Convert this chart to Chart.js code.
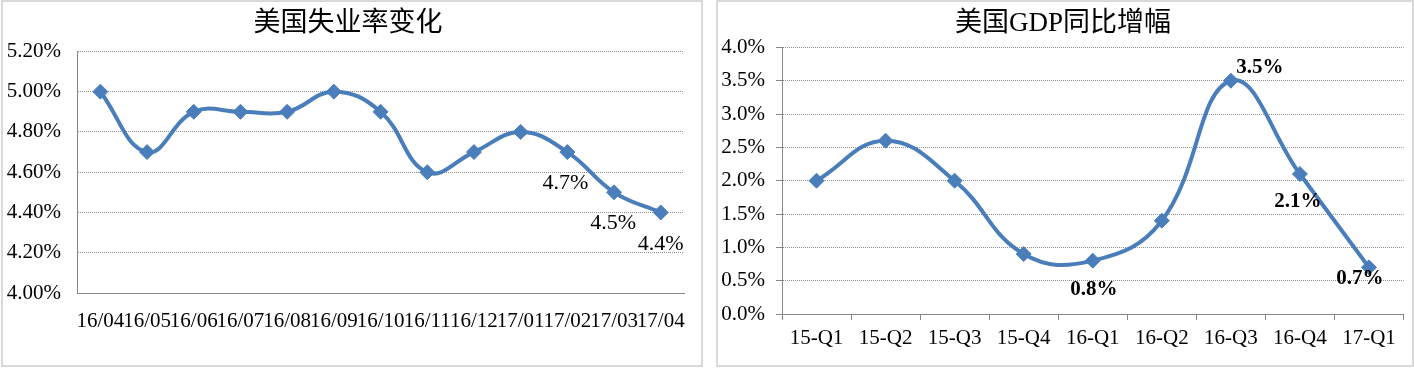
<!DOCTYPE html>
<html>
<head>
<meta charset="utf-8">
<script src="https://cdn.jsdelivr.net/npm/chart.js@4"></script>
<style>
  html, body { margin: 0; padding: 0; background: #fff; }
  body { width: 1414px; height: 370px; position: relative; overflow: hidden; }
  .panel { position: absolute; top: 0; height: 363px; border: 2px solid #d9d9d9; background: #fff; }
  #p1 { left: 1px; width: 698px; }
  #p2 { left: 716px; width: 694px; }
  canvas { display: block; }
</style>
</head>
<body>
<div class="panel" id="p1"><canvas id="rateChart" width="698" height="363"></canvas></div>
<div class="panel" id="p2"><canvas id="gdpChart" width="694" height="363"></canvas></div>
<script>
// 美国失业率 (%)
var rateMonths = ['16/04','16/05','16/06','16/07','16/08','16/09','16/10','16/11','16/12','17/01','17/02','17/03','17/04'];
var rateValues = [5.0, 4.7, 4.9, 4.9, 4.9, 5.0, 4.9, 4.6, 4.7, 4.8, 4.7, 4.5, 4.4];
var rateAxis = [4.0, 5.2, 0.2];   // min, max, step
var rateLabelled = [10, 11, 12];

// 美国GDP同比增幅 (%)
var gdpQuarters = ['15-Q1','15-Q2','15-Q3','15-Q4','16-Q1','16-Q2','16-Q3','16-Q4','17-Q1'];
var gdpValues = [2.0, 2.6, 2.0, 0.9, 0.8, 1.4, 3.5, 2.1, 0.7];
var gdpAxis = [0.0, 4.0, 0.5];
var gdpLabelled = [4, 6, 7, 8];

var serif = '"Liberation Serif", "Noto Sans CJK SC", serif';
var blue = '#4a7ebb';
var gridGray = '#8c8c8c';
var axisGray = '#868686';

// draws value labels next to chosen points
var pointLabels = {
    id: 'pointLabels',
    afterDatasetsDraw(chart, args, opts) {
        var meta = chart.getDatasetMeta(0);
        var vals = chart.data.datasets[0].data;
        var ctx = chart.ctx;
        ctx.save();
        ctx.font = opts.font;
        ctx.fillStyle = '#000';
        ctx.textAlign = 'center';
        ctx.textBaseline = 'middle';
        opts.indices.forEach(function (idx, k) {
            var p = meta.data[idx];
            var off = opts.offsets[k];
            ctx.fillText(vals[idx].toFixed(1) + '%', p.x + off[0], p.y + off[1]);
        });
        ctx.restore();
    }
};

function lineDataset(values) {
    return {
        data: values,
        borderColor: blue,
        backgroundColor: blue,
        borderWidth: 4,
        tension: 0.42,
        pointStyle: 'rectRot',
        pointRadius: 7.5,
        pointBorderWidth: 1,
        pointBackgroundColor: blue,
        pointBorderColor: blue,
        fill: false
    };
}

new Chart(document.getElementById('rateChart').getContext('2d'), {
    type: 'line',
    data: { labels: rateMonths, datasets: [lineDataset(rateValues)] },
    plugins: [pointLabels],
    options: {
        responsive: false,
        animation: false,
        layout: { padding: { left: 0, right: 8, top: 0, bottom: 0 } },
        plugins: {
            legend: { display: false },
            tooltip: { enabled: false },
            title: {
                display: true,
                text: '美国失业率变化',
                color: '#000',
                font: { family: serif, size: 27, weight: 'normal', lineHeight: 1.2 },
                padding: { top: 6, bottom: 11 }
            },
            pointLabels: {
                indices: rateLabelled,
                offsets: [[-2, 31], [-1, 31], [0, 32]],
                font: '22px ' + serif
            }
        },
        scales: {
            x: {
                offset: true,
                grid: { display: true, drawOnChartArea: false, drawTicks: false },
                border: { display: true, color: axisGray, width: 1 },
                ticks: { color: '#000', font: { family: serif, size: 21 }, padding: 16,
                         autoSkip: false, maxRotation: 0, minRotation: 0 },
                afterFit: function (s) { s.height = 72; }
            },
            y: {
                min: rateAxis[0], max: rateAxis[1],
                grid: { color: gridGray, lineWidth: 1, drawTicks: false },
                border: { display: true, color: axisGray, width: 1, dash: [1, 1] },
                ticks: { stepSize: rateAxis[2], color: '#000', font: { family: serif, size: 21 }, padding: 16,
                         callback: function (v) { return v.toFixed(2) + '%'; } },
                afterFit: function (s) { s.width = 74; }
            }
        }
    }
});

new Chart(document.getElementById('gdpChart').getContext('2d'), {
    type: 'line',
    data: { labels: gdpQuarters, datasets: [lineDataset(gdpValues)] },
    plugins: [pointLabels],
    options: {
        responsive: false,
        animation: false,
        layout: { padding: { left: 0, right: 4, top: 0, bottom: 0 } },
        plugins: {
            legend: { display: false },
            tooltip: { enabled: false },
            title: {
                display: true,
                text: '美国GDP同比增幅',
                color: '#000',
                font: { family: serif, size: 27, weight: 'normal', lineHeight: 1.2 },
                padding: { top: 6, bottom: 7 }
            },
            pointLabels: {
                indices: gdpLabelled,
                offsets: [[1, 29], [29, -13], [-2, 28], [-9, 11]],
                font: 'bold 21px ' + serif
            }
        },
        scales: {
            x: {
                offset: true,
                grid: { display: true, offset: true, drawOnChartArea: false, drawTicks: true,
                        tickLength: 6, color: axisGray },
                border: { display: true, color: axisGray, width: 1 },
                ticks: { color: '#000', font: { family: serif, size: 21 }, padding: 6,
                         autoSkip: false, maxRotation: 0, minRotation: 0 },
                afterFit: function (s) { s.height = 51; }
            },
            y: {
                min: gdpAxis[0], max: gdpAxis[1],
                grid: { color: gridGray, lineWidth: 1, drawTicks: true, tickLength: 6, tickColor: axisGray },
                border: { display: true, color: axisGray, width: 1, dash: [1, 1] },
                ticks: { stepSize: gdpAxis[2], color: '#000', font: { family: serif, size: 21 }, padding: 11,
                         callback: function (v) { return v.toFixed(1) + '%'; } },
                afterFit: function (s) { s.width = 64; }
            }
        }
    }
});
</script>
</body>
</html>
